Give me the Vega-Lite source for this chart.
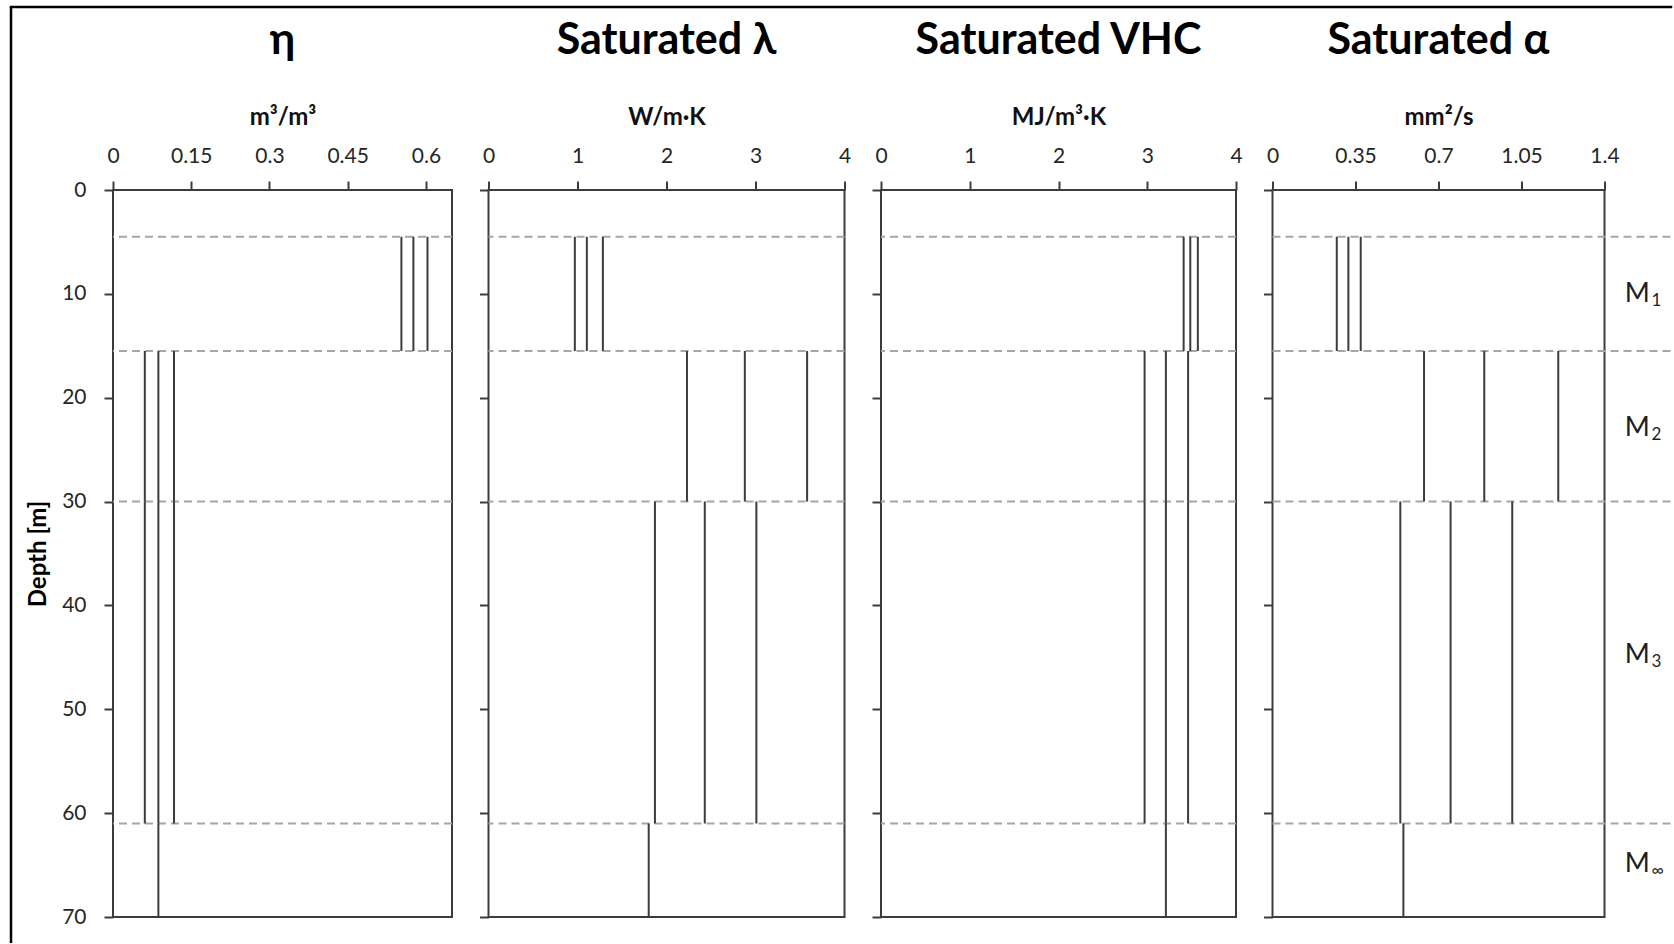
{
  "$schema": "https://vega.github.io/schema/vega-lite/v6.json",
  "padding": {"left": 9, "top": 5, "right": 0, "bottom": 0},
  "background": "white",
  "datasets": {
    "segs": [
      {"prop": "eta", "layer": "M1", "top": 4.5, "bottom": 15.5, "value": 0.553},
      {"prop": "eta", "layer": "M1", "top": 4.5, "bottom": 15.5, "value": 0.576},
      {"prop": "eta", "layer": "M1", "top": 4.5, "bottom": 15.5, "value": 0.603},
      {"prop": "eta", "layer": "M2", "top": 15.5, "bottom": 30, "value": 0.061},
      {"prop": "eta", "layer": "M2", "top": 15.5, "bottom": 30, "value": 0.087},
      {"prop": "eta", "layer": "M2", "top": 15.5, "bottom": 30, "value": 0.117},
      {"prop": "eta", "layer": "M3", "top": 30, "bottom": 61, "value": 0.061},
      {"prop": "eta", "layer": "M3", "top": 30, "bottom": 61, "value": 0.087},
      {"prop": "eta", "layer": "M3", "top": 30, "bottom": 61, "value": 0.117},
      {"prop": "eta", "layer": "Minf", "top": 61, "bottom": 70, "value": 0.087},
      {"prop": "lambda", "layer": "M1", "top": 4.5, "bottom": 15.5, "value": 0.97},
      {"prop": "lambda", "layer": "M1", "top": 4.5, "bottom": 15.5, "value": 1.105},
      {"prop": "lambda", "layer": "M1", "top": 4.5, "bottom": 15.5, "value": 1.285},
      {"prop": "lambda", "layer": "M2", "top": 15.5, "bottom": 30, "value": 2.23},
      {"prop": "lambda", "layer": "M2", "top": 15.5, "bottom": 30, "value": 2.88},
      {"prop": "lambda", "layer": "M2", "top": 15.5, "bottom": 30, "value": 3.58},
      {"prop": "lambda", "layer": "M3", "top": 30, "bottom": 61, "value": 1.87},
      {"prop": "lambda", "layer": "M3", "top": 30, "bottom": 61, "value": 2.43},
      {"prop": "lambda", "layer": "M3", "top": 30, "bottom": 61, "value": 3.01},
      {"prop": "lambda", "layer": "Minf", "top": 61, "bottom": 70, "value": 1.8},
      {"prop": "vhc", "layer": "M1", "top": 4.5, "bottom": 15.5, "value": 3.41},
      {"prop": "vhc", "layer": "M1", "top": 4.5, "bottom": 15.5, "value": 3.485},
      {"prop": "vhc", "layer": "M1", "top": 4.5, "bottom": 15.5, "value": 3.57},
      {"prop": "vhc", "layer": "M2", "top": 15.5, "bottom": 30, "value": 2.97},
      {"prop": "vhc", "layer": "M2", "top": 15.5, "bottom": 30, "value": 3.21},
      {"prop": "vhc", "layer": "M2", "top": 15.5, "bottom": 30, "value": 3.46},
      {"prop": "vhc", "layer": "M3", "top": 30, "bottom": 61, "value": 2.97},
      {"prop": "vhc", "layer": "M3", "top": 30, "bottom": 61, "value": 3.21},
      {"prop": "vhc", "layer": "M3", "top": 30, "bottom": 61, "value": 3.46},
      {"prop": "vhc", "layer": "Minf", "top": 61, "bottom": 70, "value": 3.21},
      {"prop": "alpha", "layer": "M1", "top": 4.5, "bottom": 15.5, "value": 0.271},
      {"prop": "alpha", "layer": "M1", "top": 4.5, "bottom": 15.5, "value": 0.32},
      {"prop": "alpha", "layer": "M1", "top": 4.5, "bottom": 15.5, "value": 0.372},
      {"prop": "alpha", "layer": "M2", "top": 15.5, "bottom": 30, "value": 0.639},
      {"prop": "alpha", "layer": "M2", "top": 15.5, "bottom": 30, "value": 0.893},
      {"prop": "alpha", "layer": "M2", "top": 15.5, "bottom": 30, "value": 1.205},
      {"prop": "alpha", "layer": "M3", "top": 30, "bottom": 61, "value": 0.539},
      {"prop": "alpha", "layer": "M3", "top": 30, "bottom": 61, "value": 0.751},
      {"prop": "alpha", "layer": "M3", "top": 30, "bottom": 61, "value": 1.011},
      {"prop": "alpha", "layer": "Minf", "top": 61, "bottom": 70, "value": 0.552}
    ],
    "bounds": [{"depth": 4.5}, {"depth": 15.5}, {"depth": 30}, {"depth": 61}],
    "layers": [
      {"name": "M", "sub": "1", "depth": 10},
      {"name": "M", "sub": "2", "depth": 22.9},
      {"name": "M", "sub": "3", "depth": 44.8},
      {"name": "M", "sub": "∞", "depth": 64.9}
    ],
    "frame": [{"edge": 0}]
  },
  "spacing": -93,
  "hconcat": [
    {
      "width": 100,
      "height": 936,
      "view": {"stroke": null},
      "data": {"name": "frame"},
      "layer": [
        {"mark": {"type": "rule", "color": "#000000", "strokeWidth": 2.5},
         "encoding": {"x": {"datum": 0, "type": "quantitative", "scale": {"domain": [0, 1]}, "axis": null}}},
        {"mark": {"type": "rule", "color": "#000000", "strokeWidth": 2.5, "strokeCap": "square"},
         "encoding": {"y": {"datum": 1, "type": "quantitative", "scale": {"domain": [0, 1]}, "axis": null}}}
      ]
    },
    {
      "spacing": 10,
      "vconcat": [
        {
          "width": 1558,
          "height": 1,
          "view": {"stroke": null},
          "data": {"name": "frame"},
          "mark": {"type": "rule", "color": "#000000", "strokeWidth": 2.5, "strokeCap": "square"},
          "encoding": {"y": {"datum": 1, "type": "quantitative", "scale": {"domain": [0, 1]}, "axis": null}}
        },
        {
          "bounds": "flush",
          "spacing": 36.5,
          "hconcat": [
            {
              "width": 339, "height": 727,
              "title": {"text": "η"},
              "layer": [
                {"data": {"name": "bounds"},
                 "mark": {"type": "rule", "color": "#a6a6a6", "strokeWidth": 2, "strokeDash": [8, 5]},
                 "encoding": {"y": {"field": "depth", "type": "quantitative", "scale": {"domain": [0, 70], "reverse": true, "nice": false, "zero": false},
                   "axis": {"orient": "left", "values": [0, 10, 20, 30, 40, 50, 60, 70], "format": "d", "title": "Depth [m]", "titleFontSize": 24, "titleColor": "#000000", "titlePadding": 11}}}},
                {"data": {"name": "segs"},
                 "transform": [{"filter": "datum.prop === 'eta'"}],
                 "mark": {"type": "rule", "color": "#3c3c3c", "strokeWidth": 2},
                 "encoding": {
                   "x": {"field": "value", "type": "quantitative", "scale": {"domain": [0, 0.65], "nice": false, "zero": false},
                     "axis": {"orient": "top", "values": [0, 0.15, 0.3, 0.45, 0.6], "format": ".2~f", "title": "m³/m³"}},
                   "y": {"field": "top", "type": "quantitative",
                     "axis": {"orient": "left", "values": [0, 10, 20, 30, 40, 50, 60, 70], "format": "d", "title": "Depth [m]", "titleFontSize": 24, "titleColor": "#000000", "titlePadding": 11}},
                   "y2": {"field": "bottom"}}}
              ]
            },
            {
              "width": 356, "height": 727,
              "title": {"text": "Saturated λ"},
              "layer": [
                {"data": {"name": "bounds"},
                 "mark": {"type": "rule", "color": "#a6a6a6", "strokeWidth": 2, "strokeDash": [8, 5]},
                 "encoding": {"y": {"field": "depth", "type": "quantitative", "scale": {"domain": [0, 70], "reverse": true, "nice": false, "zero": false},
                   "axis": {"orient": "left", "values": [0, 10, 20, 30, 40, 50, 60, 70], "labels": false, "title": null}}}},
                {"data": {"name": "segs"},
                 "transform": [{"filter": "datum.prop === 'lambda'"}],
                 "mark": {"type": "rule", "color": "#3c3c3c", "strokeWidth": 2},
                 "encoding": {
                   "x": {"field": "value", "type": "quantitative", "scale": {"domain": [0, 4], "nice": false, "zero": false},
                     "axis": {"orient": "top", "values": [0, 1, 2, 3, 4], "format": "d", "title": "W/m·K"}},
                   "y": {"field": "top", "type": "quantitative",
                     "axis": {"orient": "left", "values": [0, 10, 20, 30, 40, 50, 60, 70], "labels": false, "title": null}},
                   "y2": {"field": "bottom"}}}
              ]
            },
            {
              "width": 355, "height": 727,
              "title": {"text": "Saturated VHC"},
              "layer": [
                {"data": {"name": "bounds"},
                 "mark": {"type": "rule", "color": "#a6a6a6", "strokeWidth": 2, "strokeDash": [8, 5]},
                 "encoding": {"y": {"field": "depth", "type": "quantitative", "scale": {"domain": [0, 70], "reverse": true, "nice": false, "zero": false},
                   "axis": {"orient": "left", "values": [0, 10, 20, 30, 40, 50, 60, 70], "labels": false, "title": null}}}},
                {"data": {"name": "segs"},
                 "transform": [{"filter": "datum.prop === 'vhc'"}],
                 "mark": {"type": "rule", "color": "#3c3c3c", "strokeWidth": 2},
                 "encoding": {
                   "x": {"field": "value", "type": "quantitative", "scale": {"domain": [0, 4], "nice": false, "zero": false},
                     "axis": {"orient": "top", "values": [0, 1, 2, 3, 4], "format": "d", "title": "MJ/m³·K"}},
                   "y": {"field": "top", "type": "quantitative",
                     "axis": {"orient": "left", "values": [0, 10, 20, 30, 40, 50, 60, 70], "labels": false, "title": null}},
                   "y2": {"field": "bottom"}}}
              ]
            },
            {
              "width": 332, "height": 727,
              "title": {"text": "Saturated α"},
              "layer": [
                {"data": {"name": "bounds"},
                 "mark": {"type": "rule", "color": "#a6a6a6", "strokeWidth": 2, "strokeDash": [8, 5]},
                 "encoding": {
                   "x": {"datum": 0, "type": "quantitative"},
                   "x2": {"datum": 1.69},
                   "y": {"field": "depth", "type": "quantitative", "scale": {"domain": [0, 70], "reverse": true, "nice": false, "zero": false},
                     "axis": {"orient": "left", "values": [0, 10, 20, 30, 40, 50, 60, 70], "labels": false, "title": null}}}},
                {"data": {"name": "segs"},
                 "transform": [{"filter": "datum.prop === 'alpha'"}],
                 "mark": {"type": "rule", "color": "#3c3c3c", "strokeWidth": 2},
                 "encoding": {
                   "x": {"field": "value", "type": "quantitative", "scale": {"domain": [0, 1.4], "nice": false, "zero": false},
                     "axis": {"orient": "top", "values": [0, 0.35, 0.7, 1.05, 1.4], "format": ".2~f", "title": "mm²/s"}},
                   "y": {"field": "top", "type": "quantitative",
                     "axis": {"orient": "left", "values": [0, 10, 20, 30, 40, 50, 60, 70], "labels": false, "title": null}},
                   "y2": {"field": "bottom"}}},
                {"data": {"name": "layers"},
                 "mark": {"type": "text", "align": "right", "baseline": "middle", "font": "Lato", "fontSize": 27, "color": "#1f1f1f"},
                 "encoding": {
                   "x": {"datum": 1.591, "type": "quantitative"},
                   "y": {"field": "depth", "type": "quantitative"},
                   "text": {"field": "name"}}},
                {"data": {"name": "layers"},
                 "mark": {"type": "text", "align": "left", "baseline": "middle", "font": "Lato", "fontSize": 17, "dy": 7, "color": "#1f1f1f"},
                 "encoding": {
                   "x": {"datum": 1.598, "type": "quantitative"},
                   "y": {"field": "depth", "type": "quantitative"},
                   "text": {"field": "sub"}}}
              ]
            }
          ]
        }
      ]
    }
  ],
  "config": {
    "font": "Lato",
    "view": {"stroke": "#3c3c3c", "strokeWidth": 2},
    "axis": {
      "domain": false, "grid": false, "ticks": true,
      "tickColor": "#3c3c3c", "tickWidth": 2, "tickSize": 9,
      "labelFont": "Lato", "labelFontSize": 21, "labelColor": "#262626",
      "labelFlush": false, "labelOverlap": false, "labelPadding": 15,
      "titleFont": "Lato", "titleFontSize": 24, "titleFontWeight": "bold", "titleColor": "#111111", "titlePadding": 16
    },
    "axisY": {"labelPadding": 18},
    "title": {"font": "Lato", "fontSize": 43, "fontWeight": "bold", "color": "#000000", "anchor": "middle", "baseline": "alphabetic", "offset": 42}
  }
}
